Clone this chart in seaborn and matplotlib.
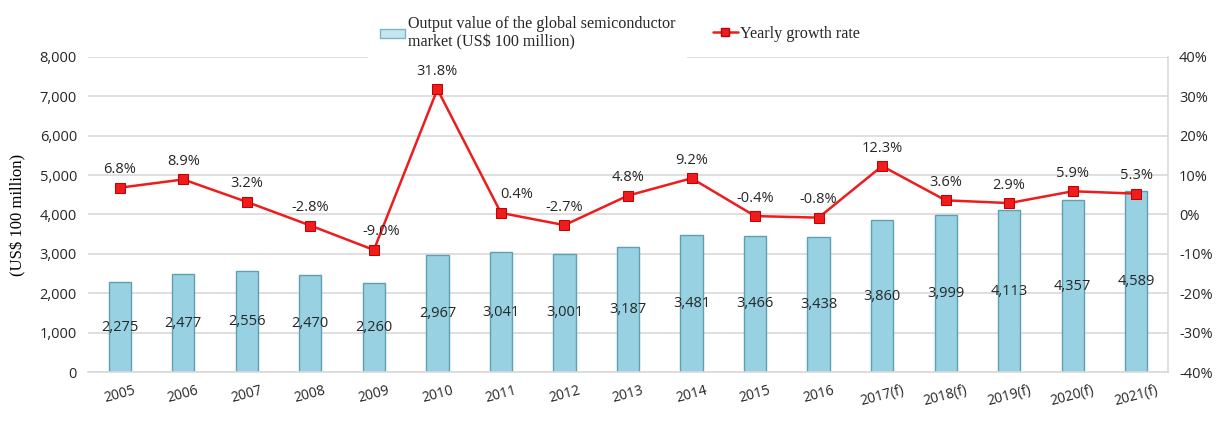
import numpy as np
import pandas as pd
import matplotlib
matplotlib.use("Agg")
import matplotlib.pyplot as plt
from matplotlib.patches import Patch
from matplotlib.lines import Line2D
from matplotlib.ticker import FuncFormatter, MultipleLocator
import seaborn as sns

years = ["2005", "2006", "2007", "2008", "2009", "2010", "2011", "2012", "2013",
         "2014", "2015", "2016", "2017(f)", "2018(f)", "2019(f)", "2020(f)", "2021(f)"]
output_value = [2275, 2477, 2556, 2470, 2260, 2967, 3041, 3001, 3187,
                3481, 3466, 3438, 3860, 3999, 4113, 4357, 4589]
growth_rate = [6.8, 8.9, 3.2, -2.8, -9.0, 31.8, 0.4, -2.7, 4.8,
               9.2, -0.4, -0.8, 12.3, 3.6, 2.9, 5.9, 5.3]

bar_label = "Output value of the global semiconductor\nmarket (US$ 100 million)"
line_label = "Yearly growth rate"
y_label = "(US$ 100 million)"

df = pd.DataFrame({"year": years, "value": output_value, "growth": growth_rate})
df["pos"] = np.arange(len(df))

sns.set_theme(style="white")
plt.rcParams["font.family"] = ["Open Sans", "DejaVu Sans"]

BAR = "#98d2e2"
BAR_EDGE = "#5f9fb2"
RED = "#ee1c1c"
GRID = "#d9d9d9"
TXT = "#262626"

fig = plt.figure(figsize=(12.16, 4.34), dpi=100)
ax = fig.add_axes([88 / 1216, 1 - 372 / 434, 1080 / 1216, 315 / 434])

sns.barplot(data=df, x="year", y="value", ax=ax, color=BAR, saturation=1,
            width=0.35, edgecolor=BAR_EDGE, linewidth=1.0, zorder=2)

ax.set_ylim(0, 8000)
ax.set_xlim(-0.5, len(years) - 0.5)
ax.yaxis.set_major_locator(MultipleLocator(1000))
ax.yaxis.set_major_formatter(FuncFormatter(lambda v, p: f"{int(v):,}"))
ax.yaxis.grid(True, color=GRID, linewidth=1.2, zorder=0)
ax.set_axisbelow(True)
ax.set_xlabel("")
ax.set_ylabel("")
for s in ["left", "top", "right"]:
    ax.spines[s].set_visible(False)
ax.spines["bottom"].set_color(GRID)
ax.spines["bottom"].set_linewidth(1.2)
ax.tick_params(axis="y", labelsize=10.5, colors=TXT, length=0, pad=8)
ax.tick_params(axis="x", labelsize=10, colors=TXT, length=0, pad=8)
for lab in ax.get_xticklabels():
    lab.set_rotation(15)
    lab.set_ha("center")

# value labels at mid-height of each bar
for i, v in enumerate(output_value):
    ax.text(i, v / 2, f"{v:,}", ha="center", va="center", fontsize=10.5,
            color=TXT, zorder=5)

ax2 = ax.twinx()
sns.lineplot(data=df, x="pos", y="growth", ax=ax2, color=RED, linewidth=1.8,
             marker="s", markersize=6.5, markeredgecolor="#c40000",
             markerfacecolor=RED, zorder=4)
ax2.set_ylim(-40, 40)
ax2.set_xlim(-0.5, len(years) - 0.5)
ax2.yaxis.set_major_locator(MultipleLocator(10))
ax2.yaxis.set_major_formatter(FuncFormatter(lambda v, p: f"{int(v)}%"))
ax2.set_ylabel("")
ax2.set_xlabel("")
for s in ["left", "top", "bottom"]:
    ax2.spines[s].set_visible(False)
ax2.spines["right"].set_color(GRID)
ax2.spines["right"].set_linewidth(1.2)
ax2.tick_params(axis="y", labelsize=10.5, colors=TXT, length=0, pad=8)

# growth labels above the markers; a few nudged sideways off the line
label_dx = {4: 5, 6: 11}
for i, g in enumerate(growth_rate):
    ax2.annotate(f"{g:.1f}%", (i, g), xytext=(label_dx.get(i, 0), 13),
                 textcoords="offset points", ha="center", va="center",
                 fontsize=10.5, color=TXT, zorder=6)

fig.text(18 / 1216, 1 - 215 / 434, y_label, rotation=90, ha="center", va="center",
         fontsize=12, family="Liberation Serif", color="black")

serif = {"family": "Liberation Serif", "size": 11.6}
leg1 = fig.legend(handles=[Patch(facecolor="#c5e6ef", edgecolor="#7fb4c4")],
                  labels=[bar_label], loc="upper left",
                  bbox_to_anchor=(360 / 1216, 1 + 4 / 434), prop=serif,
                  frameon=True, facecolor="white", edgecolor="none", framealpha=1,
                  handlelength=1.55, handleheight=0.5, handletextpad=0.15,
                  borderpad=0.75, labelspacing=0.2)
leg1.set_zorder(0)
leg2 = fig.legend(handles=[Line2D([], [], color=RED, marker="s", markersize=5.5,
                                  markeredgecolor="#c40000", linewidth=1.8)],
                  labels=[line_label], loc="upper left",
                  bbox_to_anchor=(698 / 1216, 1 - 11 / 434), prop=serif,
                  frameon=False, handlelength=1.6, handletextpad=0.1)

fig.savefig("out.png", dpi=100)
